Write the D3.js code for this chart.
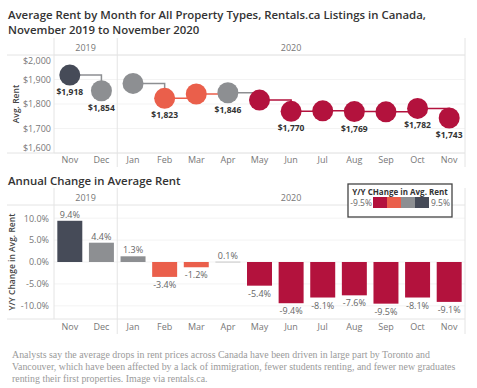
<!DOCTYPE html>
<html>
<head>
<meta charset="utf-8">
<title>Average rent, Rentals.ca</title>
<script src="https://cdn.jsdelivr.net/npm/d3@7"></script>
<style>
  body { margin: 0; background: #fff; }
  text { font-family: "Open Sans", sans-serif; }
  .tick text { fill: #777; font-size: 9px; }
  .axis path { display: none; }
</style>
</head>
<body>
<script>
////////// data //////////
var months  = ["Nov","Dec","Jan","Feb","Mar","Apr","May","Jun","Jul","Aug","Sep","Oct","Nov"];
var years   = [2019, 2019, 2020, 2020, 2020, 2020, 2020, 2020, 2020, 2020, 2020, 2020, 2020];
var avgRent = [1918, 1854, 1884, 1823, 1841, 1846, 1816, 1770, 1772, 1769, 1768, 1782, 1743];
var yoy     = [9.4, 4.4, 1.3, -3.4, -1.2, 0.1, -5.4, -9.4, -8.1, -7.6, -9.5, -8.1, -9.1];
var labelled = [0, 1, 3, 5, 7, 9, 11, 12];   // months whose rent gets a label
var rentTicks = [1600, 1700, 1800, 1900, 2000];
var yoyTicks  = [-10, -5, 0, 5, 10];
var yearList  = [2019, 2020];

var captionLines = [
  "Analysts say the average drops in rent prices across Canada have been driven in large part by Toronto and",
  "Vancouver, which have been affected by a lack of immigration, fewer students renting, and fewer new graduates",
  "renting their first properties. Image via rentals.ca."
];

////////// svg //////////
var W = 477, H = 388;
var svg = d3.select("body").append("svg").attr("width", W).attr("height", H);

var paneL = 54, paneR = 465;
var x = d3.scaleBand().domain(d3.range(months.length)).range([paneL, paneR]);
var cx = function(i) { return x(i) + x.bandwidth() / 2; };

var color = d3.scaleQuantize().domain([-9.5, 9.5])
    .range(["#b3123d", "#ea5f4b", "#8d8f92", "#464b58"]);

var lineCol = "#e4e4e4";

// pane extents for each year
var yearPane = yearList.map(function(y) {
  var idx = d3.range(months.length).filter(function(i) { return years[i] == y; });
  return { year: y, x0: x(idx[0]), x1: x(idx[idx.length - 1]) + x.bandwidth() };
});

////////// titles //////////
svg.append("text").attr("x", 8).attr("y", 19)
   .attr("font-size", 11.4).attr("font-weight", 600).attr("fill", "#333")
   .text("Average Rent by Month for All Property Types, Rentals.ca Listings in Canada,");
svg.append("text").attr("x", 8).attr("y", 34)
   .attr("font-size", 11.4).attr("font-weight", 600).attr("fill", "#333")
   .text("November 2019 to November 2020");
svg.append("text").attr("x", 8).attr("y", 185)
   .attr("font-size", 11.4).attr("font-weight", 600).attr("fill", "#333")
   .text("Annual Change in Average Rent");

////////// frame helper: headers, dividers, month labels //////////
function frame(top, headTop, bottom, monthY, gridScale, ticks) {
  // header year labels
  svg.selectAll(null).data(yearPane).enter().append("text")
     .attr("x", function(d) { return (d.x0 + d.x1) / 2; })
     .attr("y", headTop + 9)
     .attr("text-anchor", "middle").attr("font-size", 9).attr("fill", "#777")
     .text(function(d) { return d.year; });

  // faint gridlines
  svg.selectAll(null).data(ticks).enter().append("line")
     .attr("x1", paneL).attr("x2", paneR)
     .attr("y1", function(d) { return gridScale(d); })
     .attr("y2", function(d) { return gridScale(d); })
     .attr("stroke", "#f3f3f3");

  svg.append("line").attr("x1", 7).attr("x2", paneR).attr("y1", top).attr("y2", top).attr("stroke", lineCol);
  svg.append("line").attr("x1", 7).attr("x2", paneR).attr("y1", bottom).attr("y2", bottom).attr("stroke", lineCol);
  svg.append("line").attr("x1", paneL).attr("x2", paneL).attr("y1", headTop - 4).attr("y2", bottom).attr("stroke", lineCol);
  svg.append("line").attr("x1", yearPane[0].x1).attr("x2", yearPane[0].x1)
     .attr("y1", headTop - 4).attr("y2", monthY + 4).attr("stroke", lineCol);
  svg.append("line").attr("x1", paneR).attr("x2", paneR)
     .attr("y1", headTop - 4).attr("y2", monthY + 4).attr("stroke", lineCol);

  svg.selectAll(null).data(months).enter().append("text")
     .attr("x", function(d, i) { return cx(i); })
     .attr("y", monthY)
     .attr("text-anchor", "middle").attr("font-size", 9).attr("fill", "#777")
     .text(function(d) { return d; });
}

////////// top chart: average rent //////////
var yTop = d3.scaleLinear().domain([1600, 2000]).range([153, 55]);
frame(55, 42, 153, 163, yTop, rentTicks);

var axT = svg.append("g").attr("class", "axis").attr("transform", "translate(51,0)")
   .call(d3.axisLeft(yTop).tickValues(rentTicks).tickSize(0).tickPadding(0)
         .tickFormat(function(d) { return "$" + d3.format(",")(d); }));
// Tableau nudges the end labels inside the pane
axT.selectAll(".tick text").attr("dy", function(d) {
  return d == 2000 ? "0.95em" : d == 1600 ? "-0.3em" : "0.32em";
});

svg.append("text").attr("transform", "translate(19,104) rotate(-90)")
   .attr("text-anchor", "middle").attr("font-size", 8.5).attr("font-weight", 600).attr("fill", "#444")
   .text("Avg. Rent");

var step = d3.line().curve(d3.curveStepAfter)
    .x(function(i) { return cx(i); })
    .y(function(i) { return yTop(avgRent[i]); });

var segs = d3.range(months.length - 1).filter(function(i) { return years[i] == years[i + 1]; });
svg.selectAll(".seg").data(segs).enter().append("path")
   .attr("class", "seg")
   .attr("d", function(i) { return step([i, i + 1]); })
   .attr("fill", "none")
   .attr("stroke", function(i) { return i == 0 ? "#8d8f92" : color(yoy[i]); })
   .attr("stroke-width", 1.5);

svg.selectAll(".dot").data(avgRent).enter().append("circle")
   .attr("class", "dot")
   .attr("cx", function(d, i) { return cx(i); })
   .attr("cy", function(d) { return yTop(d); })
   .attr("r", 10.5)
   .attr("fill", function(d, i) { return color(yoy[i]); });

svg.selectAll(".rentLbl").data(labelled).enter().append("text")
   .attr("class", "rentLbl")
   .attr("x", function(i) { return cx(i); })
   .attr("y", function(i) { return yTop(avgRent[i]) + 20; })
   .attr("text-anchor", "middle").attr("font-size", 8.5).attr("font-weight", 700).attr("fill", "#333")
   .text(function(i) { return "$" + d3.format(",")(avgRent[i]); });

////////// bottom chart: annual change //////////
var yBot = d3.scaleLinear().domain([-13, 13]).range([319, 205]);
frame(205, 192, 319, 330, yBot, yoyTicks);

svg.append("g").attr("class", "axis").attr("transform", "translate(49,0)")
   .call(d3.axisLeft(yBot).tickValues(yoyTicks).tickSize(0).tickPadding(0)
         .tickFormat(function(d) { return d.toFixed(1) + "%"; }));

svg.append("text").attr("transform", "translate(15,262) rotate(-90)")
   .attr("text-anchor", "middle").attr("font-size", 8.5).attr("font-weight", 600).attr("fill", "#444")
   .text("Y/Y Change in Avg. Rent");

var barW = x.bandwidth() * 0.79;
svg.selectAll(".bar").data(yoy).enter().append("rect")
   .attr("class", "bar")
   .attr("x", function(d, i) { return cx(i) - barW / 2; })
   .attr("y", function(d) { return Math.min(yBot(d), yBot(0)); })
   .attr("width", barW)
   .attr("height", function(d) { return Math.max(1, Math.abs(yBot(d) - yBot(0))); })
   .attr("fill", function(d) { return Math.abs(d) < 0.5 ? "#c8c8c8" : color(d); });

svg.selectAll(".barLbl").data(yoy).enter().append("text")
   .attr("class", "barLbl")
   .attr("x", function(d, i) { return cx(i); })
   .attr("y", function(d) { return d >= 0 ? yBot(d) - 3 : yBot(d) + 11; })
   .attr("text-anchor", "middle").attr("font-size", 9).attr("fill", "#666")
   .text(function(d) { return d.toFixed(1) + "%"; });

////////// legend //////////
var lg = svg.append("g").attr("transform", "translate(348,184)");
lg.append("rect").attr("width", 104).attr("height", 33)
  .attr("fill", "#fff").attr("stroke", "#444").attr("stroke-width", 1.3);
lg.append("text").attr("x", 52).attr("y", 10.5).attr("text-anchor", "middle")
  .attr("font-size", 8).attr("font-weight", 700).attr("fill", "#333")
  .text("Y/Y CHange in Avg. Rent");
var sw = color.range();
lg.selectAll(".sw").data(sw).enter().append("rect")
  .attr("x", function(d, i) { return 25 + i * 14; }).attr("y", 13)
  .attr("width", 14).attr("height", 11)
  .attr("fill", function(d) { return d; });
lg.append("text").attr("x", 24).attr("y", 22).attr("text-anchor", "end")
  .attr("font-size", 8.5).attr("fill", "#666").text("-9.5%");
lg.append("text").attr("x", 83).attr("y", 22)
  .attr("font-size", 8.5).attr("fill", "#666").text("9.5%");

////////// caption //////////
var caps = svg.selectAll(".cap").data(captionLines).enter().append("text")
   .attr("class", "cap")
   .attr("x", 12).attr("y", function(d, i) { return 358 + i * 12; })
   .style("font-family", "'Liberation Serif', serif")
   .style("font-size", "10px").attr("fill", "#9a9a9a")
   .text(function(d) { return d; });
// first line runs to about x = 430 in the original
var firstW = caps.node().getComputedTextLength();
caps.style("font-size", (10 * 418 / firstW).toFixed(2) + "px");
</script>
</body>
</html>
